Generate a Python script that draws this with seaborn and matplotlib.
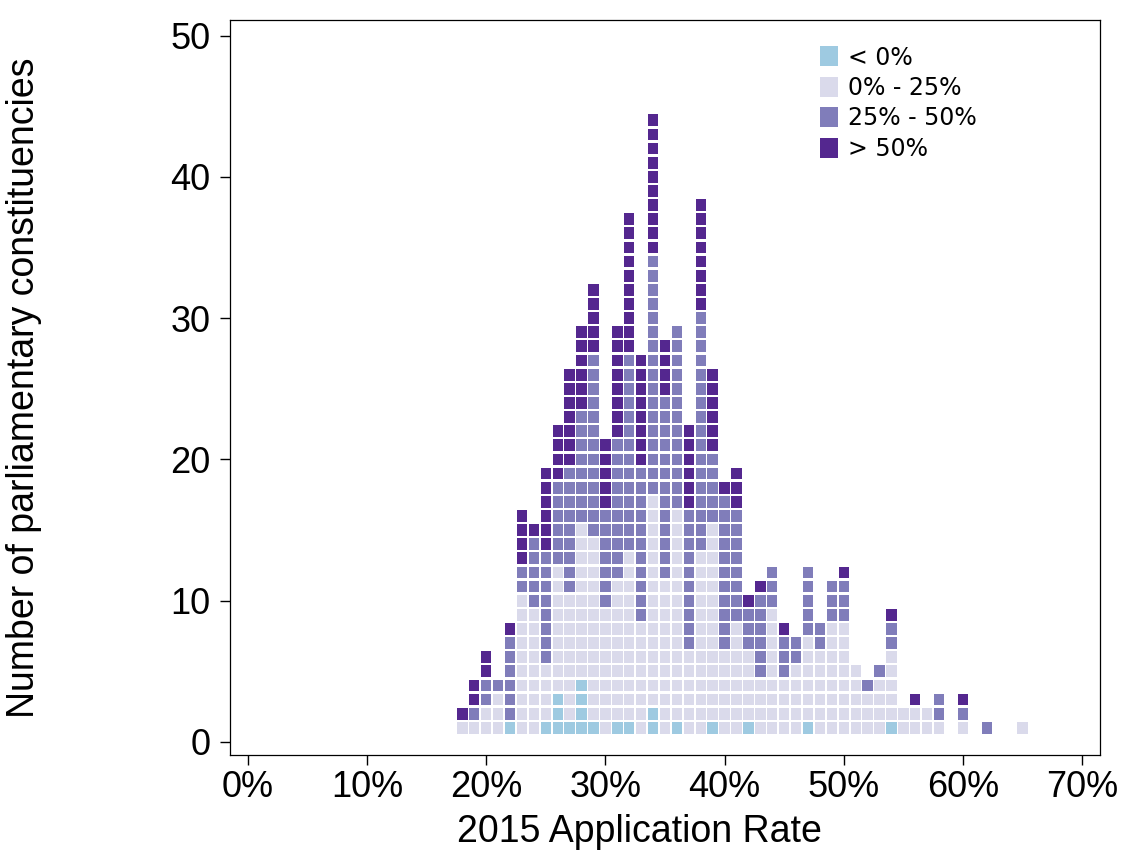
import pandas as pd
import matplotlib
matplotlib.use('Agg')
import matplotlib.pyplot as plt
import seaborn as sns
from matplotlib.ticker import FuncFormatter

# application rate (%) of each column
rates = [18, 19, 20, 21, 22, 23, 24, 25, 26, 27, 28, 29, 30, 31, 32, 33, 34, 35,
         36, 37, 38, 39, 40, 41, 42, 43, 44, 45, 46, 47, 48, 49, 50, 51, 52, 53,
         54, 55, 56, 57, 58, 60, 62, 65]

# number of constituencies in each change group, per column (stacked bottom -> top)
below_0 = [0, 0, 0, 0, 1, 0, 0, 1, 3, 1, 4, 1, 0, 1, 1, 0, 2, 0,
           1, 0, 0, 1, 0, 0, 1, 0, 0, 0, 0, 1, 0, 0, 0, 0, 0, 0,
           1, 0, 0, 0, 0, 0, 0, 0]
from_0_25 = [1, 1, 2, 3, 0, 10, 9, 4, 9, 9, 11, 13, 9, 10, 12, 8, 15, 11,
             15, 6, 13, 14, 6, 8, 5, 4, 9, 4, 5, 6, 6, 8, 8, 5, 3, 4,
             5, 2, 2, 2, 1, 1, 0, 1]
from_25_50 = [0, 1, 2, 1, 6, 2, 5, 8, 6, 9, 8, 13, 7, 10, 14, 11, 17, 13,
              13, 10, 17, 5, 11, 8, 3, 6, 3, 3, 2, 5, 2, 3, 3, 0, 1, 1,
              2, 0, 0, 0, 2, 1, 1, 0]
above_50 = [1, 2, 2, 0, 1, 4, 1, 6, 4, 7, 6, 5, 5, 8, 10, 8, 10, 4,
            0, 6, 8, 6, 1, 3, 1, 1, 0, 1, 0, 0, 0, 0, 1, 0, 0, 0,
            1, 0, 1, 0, 0, 1, 0, 0]

groups = ['< 0%', '0% - 25%', '25% - 50%', '> 50%']
colours = ['#9ecae1', '#dadaeb', '#807dba', '#54278f']

# one row per constituency: x = rate, y = position in the stack
records = []
for i, r in enumerate(rates):
    level = 0
    for g, counts in zip(groups, [below_0, from_0_25, from_25_50, above_50]):
        for _ in range(counts[i]):
            level += 1
            records.append({'rate': r, 'n': level, 'group': g})
df = pd.DataFrame(records)

sns.set_style('ticks')
plt.rcParams['font.family'] = ['Liberation Sans', 'DejaVu Sans']
plt.rcParams['text.color'] = 'black'
plt.rcParams['axes.labelcolor'] = 'black'
plt.rcParams['xtick.color'] = 'black'
plt.rcParams['ytick.color'] = 'black'

fig = plt.figure(figsize=(11.3, 8.55), dpi=100)
ax = fig.add_axes([0.2035, 0.117, 0.77, 0.8596])

box = [(-0.44, -0.5), (0.44, -0.5), (0.44, 0.5), (-0.44, 0.5), (-0.44, -0.5)]
sns.scatterplot(data=df, x='rate', y='n', hue='group', hue_order=groups,
                palette=colours, marker=box, s=72, linewidth=0, ax=ax)

ax.set_xlim(-1.5, 71.5)
ax.set_ylim(-0.92, 51.1)
ax.set_xticks(range(0, 71, 10))
ax.set_yticks(range(0, 51, 10))
ax.xaxis.set_major_formatter(FuncFormatter(lambda v, p: f'{v:.0f}%'))
ax.tick_params(labelsize=26, length=7, width=1, color='black')
ax.tick_params(axis='x', pad=4)
ax.tick_params(axis='y', pad=7)
for s in ax.spines.values():
    s.set_color('black')
    s.set_linewidth(0.9)

ax.set_xlabel('2015 Application Rate', fontsize=27)
ax.set_ylabel('Number of parliamentary constituencies', fontsize=27)
ax.xaxis.set_label_coords(0.471, -0.081)
ax.yaxis.set_label_coords(-0.216, 0.5)

handles, labels = ax.get_legend_handles_labels()
ax.legend(handles, labels, loc='upper left', bbox_to_anchor=(0.675, 0.965),
          frameon=False, borderpad=0, borderaxespad=0, markerscale=1.75,
          handlelength=1.0, handletextpad=0.3, labelspacing=0.27,
          prop={'family': 'DejaVu Sans', 'size': 17})

plt.savefig('out.png', dpi=100)
